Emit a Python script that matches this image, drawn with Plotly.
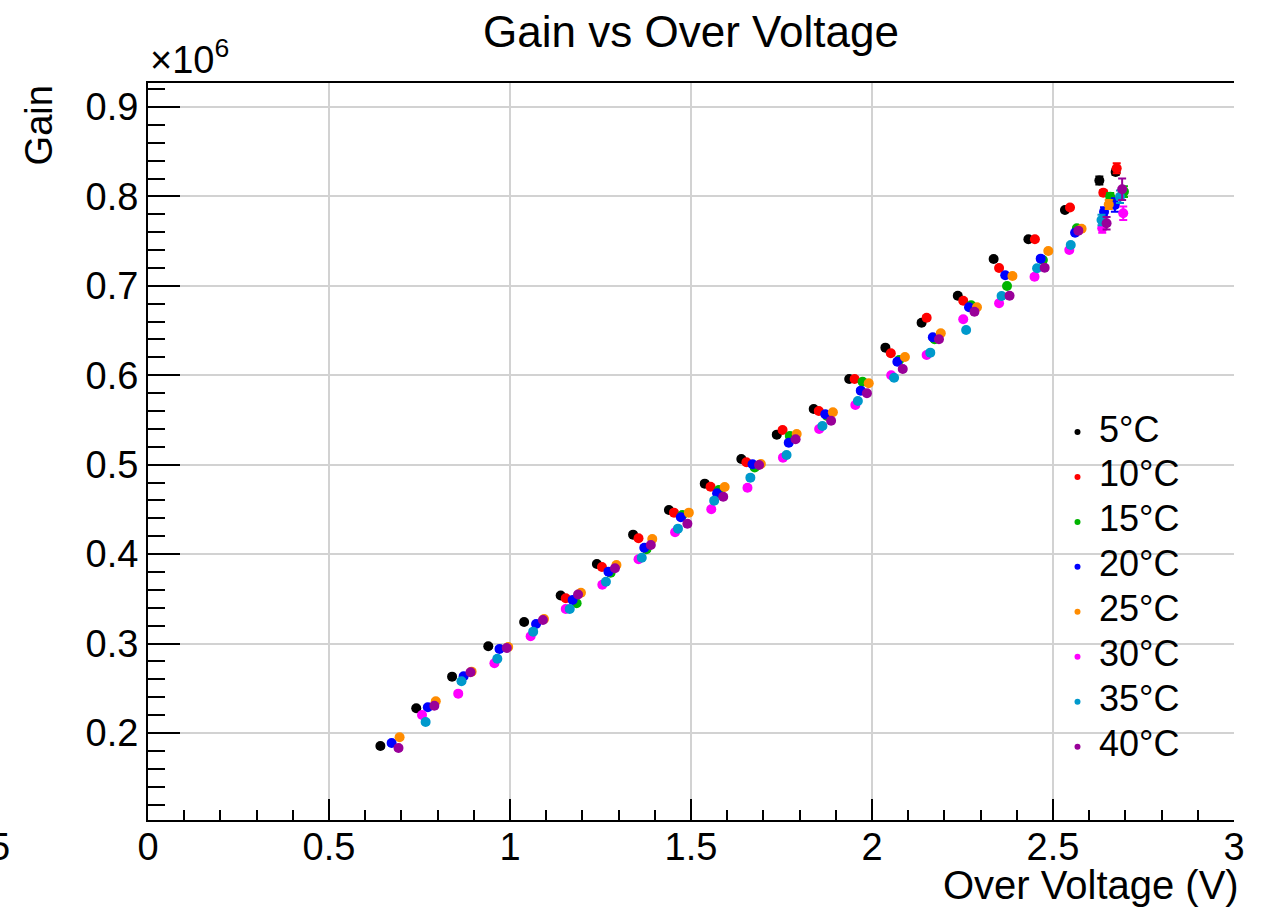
import plotly.graph_objects as go

# ---------------- data (Gain in units of 1e6) ----------------
temps = ["5°C", "10°C", "15°C", "20°C", "25°C", "30°C", "35°C", "40°C"]
colors = ["#000000", "#ff0000", "#00b400", "#0000ff", "#ff8c00", "#ff00ff", "#0099cc", "#990099"]

x_5 = [0.642, 0.741, 0.840, 0.940, 1.039, 1.140, 1.240, 1.340, 1.439, 1.538, 1.639, 1.737, 1.839, 1.937, 2.037, 2.137, 2.237, 2.336, 2.432, 2.533, 2.628, 2.673]
y_5 = [0.1855, 0.2276, 0.2630, 0.2970, 0.3241, 0.3538, 0.3890, 0.4218, 0.4494, 0.4788, 0.5064, 0.5336, 0.5623, 0.5959, 0.6309, 0.6588, 0.6890, 0.7300, 0.7521, 0.7848, 0.8178, 0.8273]
e_5 = [0.002] * 20 + [0.0045, 0.0035]

x_10 = [1.154, 1.254, 1.355, 1.453, 1.554, 1.653, 1.753, 1.853, 1.952, 2.052, 2.151, 2.252, 2.351, 2.450, 2.547, 2.639, 2.676]
y_10 = [0.3506, 0.3856, 0.4177, 0.4464, 0.4754, 0.5028, 0.5388, 0.5601, 0.5959, 0.6246, 0.6644, 0.6834, 0.7200, 0.7521, 0.7876, 0.8042, 0.8315]
e_10 = [0.002] * 15 + [0.003, 0.0056]

x_15 = [1.184, 1.278, 1.377, 1.476, 1.577, 1.676, 1.773, 1.876, 1.974, 2.075, 2.173, 2.274, 2.373, 2.472, 2.566, 2.658, 2.696]
y_15 = [0.3450, 0.3793, 0.4054, 0.4438, 0.4717, 0.4969, 0.5321, 0.5545, 0.5928, 0.6171, 0.6402, 0.6783, 0.6998, 0.7289, 0.7644, 0.7997, 0.8053]
e_15 = [0.002] * 15 + [0.004, 0.006]

x_20 = [0.673, 0.773, 0.872, 0.971, 1.072, 1.173, 1.272, 1.371, 1.472, 1.572, 1.670, 1.770, 1.871, 1.969, 2.070, 2.168, 2.268, 2.368, 2.466, 2.561, 2.641, 2.671]
y_20 = [0.1888, 0.2287, 0.2634, 0.2939, 0.3219, 0.3487, 0.3804, 0.4072, 0.4412, 0.4680, 0.5005, 0.5246, 0.5564, 0.5828, 0.6152, 0.6425, 0.6760, 0.7118, 0.7304, 0.7594, 0.7829, 0.7904]
e_20 = [0.002] * 20 + [0.005, 0.0075]

x_25 = [0.695, 0.795, 0.894, 0.995, 1.094, 1.196, 1.294, 1.393, 1.494, 1.593, 1.693, 1.792, 1.892, 1.991, 2.091, 2.190, 2.290, 2.388, 2.487, 2.579, 2.654]
y_25 = [0.1952, 0.2355, 0.2686, 0.2962, 0.3275, 0.3569, 0.3879, 0.4169, 0.4464, 0.4751, 0.5008, 0.5344, 0.5586, 0.5910, 0.6205, 0.6470, 0.6760, 0.7110, 0.7390, 0.7639, 0.7910]
e_25 = [0.002] * 20 + [0.005]

x_30 = [0.757, 0.857, 0.957, 1.057, 1.154, 1.255, 1.355, 1.456, 1.556, 1.656, 1.754, 1.854, 1.954, 2.053, 2.151, 2.252, 2.351, 2.449, 2.545, 2.636, 2.694]
y_30 = [0.2201, 0.2440, 0.2780, 0.3081, 0.3387, 0.3658, 0.3942, 0.4244, 0.4502, 0.4743, 0.5079, 0.5400, 0.5668, 0.6000, 0.6227, 0.6626, 0.6805, 0.7102, 0.7401, 0.7644, 0.7811]
e_30 = [0.002] * 19 + [0.005, 0.0075]

x_35 = [0.767, 0.866, 0.965, 1.064, 1.165, 1.265, 1.364, 1.464, 1.564, 1.664, 1.764, 1.863, 1.961, 2.061, 2.161, 2.260, 2.358, 2.456, 2.549, 2.634, 2.685]
y_35 = [0.2123, 0.2578, 0.2831, 0.3133, 0.3387, 0.3692, 0.3960, 0.4285, 0.4598, 0.4855, 0.5109, 0.5433, 0.5713, 0.5973, 0.6253, 0.6506, 0.6887, 0.7196, 0.7457, 0.7736, 0.7997]
e_35 = [0.002] * 19 + [0.006, 0.007]

x_40 = [0.692, 0.791, 0.891, 0.991, 1.091, 1.188, 1.290, 1.389, 1.490, 1.589, 1.688, 1.789, 1.887, 1.986, 2.085, 2.185, 2.283, 2.380, 2.477, 2.570, 2.648, 2.691]
y_40 = [0.1832, 0.2305, 0.2679, 0.2950, 0.3264, 0.3549, 0.3842, 0.4102, 0.4340, 0.4642, 0.4997, 0.5284, 0.5492, 0.5799, 0.6070, 0.6402, 0.6711, 0.6890, 0.7203, 0.7617, 0.7700, 0.8080]
e_40 = [0.002] * 20 + [0.007, 0.012]

xs = [x_5, x_10, x_15, x_20, x_25, x_30, x_35, x_40]
ys = [y_5, y_10, y_15, y_20, y_25, y_30, y_35, y_40]
es = [e_5, e_10, e_15, e_20, e_25, e_30, e_35, e_40]

x_tickvals = [0, 0.5, 1, 1.5, 2, 2.5, 3]
x_ticktext = ["0", "0.5", "1", "1.5", "2", "2.5", "3"]
y_tickvals = [0.2, 0.3, 0.4, 0.5, 0.6, 0.7, 0.8, 0.9]
y_ticktext = ["0.2", "0.3", "0.4", "0.5", "0.6", "0.7", "0.8", "0.9"]

FONT = "Liberation Sans, Arial, Helvetica, sans-serif"
W, H = 1272, 911
L, R, T, B = 148, 1234, 83, 820          # plot-area edges in px
PW, PH = R - L, B - T


def px2paper_x(px):
    return (px - L) / PW


def px2paper_y(py):
    return (B - py) / PH


fig = go.Figure()
for name, c, x, y, e in zip(temps, colors, xs, ys, es):
    fig.add_trace(go.Scatter(
        x=x, y=y, mode="markers", name=name, showlegend=False,
        marker=dict(color=c, size=10, symbol="circle", line=dict(width=0)),
        error_y=dict(type="data", array=e, visible=True, color=c, thickness=2, width=4),
    ))

axis_common = dict(
    showline=True, linecolor="black", linewidth=2,
    showgrid=True, gridcolor="#d2d2d2", gridwidth=2,
    zeroline=False, ticks="inside", tickcolor="black", tickwidth=2,
    tickfont=dict(family=FONT, size=38, color="black"),
)

fig.update_xaxes(
    range=[0, 3.0], tickvals=x_tickvals, ticktext=x_ticktext, ticklen=21,
    mirror=True, ticklabelstandoff=-8,
    minor=dict(dtick=0.1, tick0=0, ticks="inside", ticklen=10, tickcolor="black", tickwidth=2, showgrid=False),
    **axis_common,
)
fig.update_yaxes(
    range=[0.1027, 0.9268], tickvals=y_tickvals, ticktext=y_ticktext, ticklen=32,
    minor=dict(dtick=0.02, tick0=0, ticks="inside", ticklen=17, tickcolor="black", tickwidth=2, showgrid=False),
    **axis_common,
)

# manual legend (ROOT-style: small dots, no box)
annotations = []
shapes = []
row0, row_gap = 432.0, 44.95
for i, (name, c) in enumerate(zip(temps, colors)):
    cy = row0 + i * row_gap
    shapes.append(dict(type="circle", xref="paper", yref="paper",
                       x0=px2paper_x(1074.5), x1=px2paper_x(1080.5),
                       y0=px2paper_y(cy + 3), y1=px2paper_y(cy - 3),
                       fillcolor=c, line=dict(width=0)))
    annotations.append(dict(text=name, xref="paper", yref="paper",
                            x=px2paper_x(1097), y=px2paper_y(cy - 3),
                            xanchor="left", yanchor="middle", showarrow=False,
                            font=dict(size=36, family=FONT, color="black")))

annotations += [
    dict(text="Over Voltage (V)", xref="paper", yref="paper", x=1.0065, y=-0.088,
         xanchor="right", yanchor="middle", showarrow=False,
         font=dict(size=40, family=FONT, color="black")),
    dict(text="Gain", xref="paper", yref="paper", x=-0.10, y=1.0,
         xanchor="center", yanchor="top", textangle=-90, showarrow=False,
         font=dict(size=38, family=FONT, color="black")),
    dict(text="×10<sup>6</sup>", xref="paper", yref="paper", x=0.0, y=1.0,
         xanchor="left", yanchor="bottom", showarrow=False,
         font=dict(size=38, family=FONT, color="black")),
    dict(text="5", xref="paper", yref="paper", x=px2paper_x(12), y=px2paper_y(847),
         xanchor="right", yanchor="middle", showarrow=False,
         font=dict(size=38, family=FONT, color="black")),
]

fig.update_layout(
    width=W, height=H,
    margin=dict(l=L, r=W - R, t=T, b=H - B, autoexpand=False),
    paper_bgcolor="white", plot_bgcolor="white",
    font=dict(family=FONT, color="black"),
    showlegend=False,
    title=dict(text="Gain vs Over Voltage", x=691 / W, xanchor="center",
               y=1 - 32 / H, yanchor="middle", font=dict(size=44, family=FONT, color="black")),
    annotations=annotations,
    shapes=shapes,
)

fig.write_html("out.html")
